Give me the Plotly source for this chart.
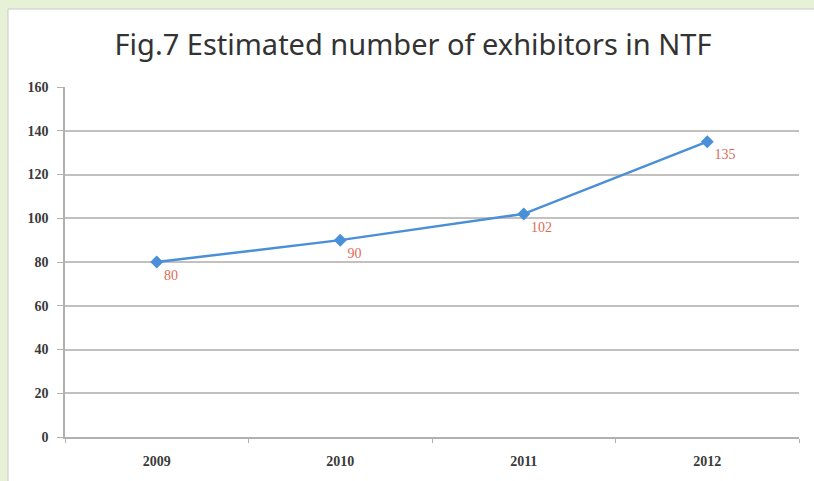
import plotly.graph_objects as go

# Exhibitor estimates per year
years = ["2009", "2010", "2011", "2012"]
exhibitors = [80, 90, 102, 135]
y_ticks = [0, 20, 40, 60, 80, 100, 120, 140, 160]

W, H = 814, 481
L, R, T, B = 65, 15, 87, 44
pw, ph = W - L - R, H - T - B

def px_x(px):
    return (px - L) / pw

def px_y(py):
    return (H - B - py) / ph

tick_font = dict(family="Liberation Serif", size=14, color="#3a3a3a", weight="bold")

fig = go.Figure()
fig.add_trace(go.Scatter(
    x=years, y=exhibitors,
    mode="lines+markers+text",
    line=dict(color="#4a8fd8", width=2.5),
    marker=dict(symbol="diamond", size=10, color="#4a8fd8"),
    text=[str(v) for v in exhibitors],
    textposition="bottom right",
    textfont=dict(family="Liberation Serif", size=14, color="#e06a5a"),
    cliponaxis=False,
    showlegend=False,
))

# White chart panel on the green page
fig.add_shape(type="rect", xref="paper", yref="paper",
              x0=px_x(8), x1=px_x(830), y0=px_y(495), y1=px_y(9),
              fillcolor="white", line=dict(color="#c8c8c8", width=1), layer="below")

fig.update_layout(
    width=W, height=H,
    margin=dict(l=L, r=R, t=T, b=B),
    paper_bgcolor="#e7f1d6",
    plot_bgcolor="rgba(0,0,0,0)",
    title=dict(text="Fig.7 Estimated number of exhibitors in NTF",
               x=413 / W, xanchor="center", y=1 - 45 / H, yanchor="middle",
               font=dict(family="Noto Sans", size=29, color="#333333")),
    xaxis=dict(type="category", range=[-0.5, 3.5], showgrid=False,
               showline=True, linecolor="#b0b0b0", linewidth=1.5,
               ticks="outside", tickson="boundaries", ticklen=4, tickcolor="#b0b0b0",
               ticklabelstandoff=10,
               tickfont=tick_font),
    yaxis=dict(range=[0, 160], tickvals=y_ticks,
               showgrid=True, gridcolor="#c4c0bd", gridwidth=1.5,
               showline=True, linecolor="#b0b0b0", linewidth=1.5,
               ticks="outside", ticklen=6, tickcolor="#b0b0b0",
               ticklabelstandoff=6,
               zeroline=False,
               tickfont=tick_font),
)

fig.write_html("out.html")
